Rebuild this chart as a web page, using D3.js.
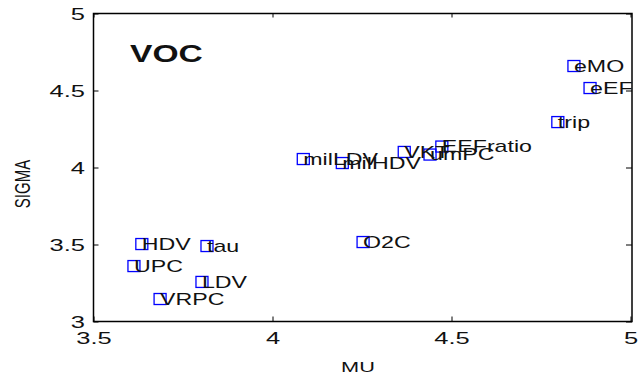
<!DOCTYPE html>
<html>
<head>
<meta charset="utf-8">
<script src="https://cdn.jsdelivr.net/npm/d3@7"></script>
<style>
  html, body { margin: 0; padding: 0; background: #fff; }
  svg { display: block; }
  text { font-family: "Liberation Sans", Arial, sans-serif; fill: #111; }
</style>
</head>
<body>
<svg id="chart" width="639" height="377"></svg>
<script>
// Morris screening results for VOC: mean (MU) and spread (SIGMA) of elementary effects
const params = ["eMO", "eEF", "trip", "EEFratio", "VKT", "umPC", "milLDV", "milHDV", "O2C", "HDV", "tau", "UPC", "LDV", "VRPC"];
const mu     = [4.842, 4.887, 4.797, 4.473, 4.368, 4.440, 4.086, 4.195, 4.253, 3.635, 3.817, 3.613, 3.803, 3.686];
const sigma  = [4.659, 4.516, 4.295, 4.136, 4.101, 4.084, 4.055, 4.029, 3.516, 3.503, 3.490, 3.360, 3.257, 3.146];

const xTicks = [3.5, 4, 4.5, 5];
const yTicks = [3, 3.5, 4, 4.5, 5];
const panelTitle = "VOC";
const xTitle = "MU";
const yTitle = "SIGMA";

const svg = d3.select("#chart");
const plotL = 93.5, plotR = 630.5, plotT = 13.5, plotB = 321.5;
const sx = 1.45; // horizontal text stretch

const x = d3.scaleLinear().domain([3.5, 5]).range([plotL, plotR]);
const y = d3.scaleLinear().domain([3, 5]).range([plotB, plotT]);

// axes with inward ticks
function styleAxis(g) {
  g.select(".domain").remove();
  g.selectAll(".tick line").attr("stroke", "#000").attr("stroke-width", 1);
  g.selectAll(".tick text").attr("font-size", 17).attr("fill", "#111");
}

const gx = svg.append("g").attr("transform", `translate(0,${plotB})`)
  .call(d3.axisBottom(x).tickValues(xTicks).tickSize(-5).tickFormat(d3.format("")));
styleAxis(gx);
gx.selectAll(".tick text")
  .attr("x", null).attr("y", null).attr("dy", null)
  .attr("text-anchor", "middle")
  .attr("transform", `translate(0,22.5) scale(${sx + 0.05},1)`);

const gxTop = svg.append("g").attr("transform", `translate(0,${plotT})`)
  .call(d3.axisTop(x).tickValues(xTicks).tickSize(-4).tickFormat(""));
styleAxis(gxTop);

const gy = svg.append("g").attr("transform", `translate(${plotL},0)`)
  .call(d3.axisLeft(y).tickValues(yTicks).tickSize(-5).tickFormat(d3.format("")));
styleAxis(gy);
gy.selectAll(".tick text")
  .attr("x", null).attr("y", null).attr("dy", null)
  .attr("text-anchor", "end")
  .attr("dominant-baseline", "central")
  .attr("transform", `translate(-8.5,0) scale(${sx + 0.05},1)`);

const gyRight = svg.append("g").attr("transform", `translate(${plotR + 1.5},0)`)
  .call(d3.axisRight(y).tickValues(yTicks).tickSize(-6).tickFormat(""));
styleAxis(gyRight);

// frame
svg.append("rect")
  .attr("x", plotL).attr("y", plotT)
  .attr("width", plotR + 1.5 - plotL).attr("height", plotB - plotT)
  .attr("fill", "none").attr("stroke", "#000").attr("stroke-width", 1.5);

// axis titles
svg.append("text")
  .attr("transform", `translate(358,372) scale(${sx},1)`)
  .attr("text-anchor", "middle").attr("font-size", 15).attr("fill", "#222")
  .text(xTitle);
svg.append("text")
  .attr("transform", `translate(30,184) scale(${sx},1) rotate(-90)`)
  .attr("text-anchor", "middle").attr("font-size", 15).attr("fill", "#222")
  .text(yTitle);

// panel title
svg.append("text")
  .attr("transform", `translate(130,62) scale(${sx - 0.05},1)`)
  .attr("font-size", 24).attr("font-weight", "bold")
  .text(panelTitle);

// points
const pts = params.map((p, i) => ({ p, mu: mu[i], s: sigma[i] }));
const g = svg.append("g");
g.selectAll("rect.pt").data(pts).join("rect")
  .attr("class", "pt")
  .attr("x", d => x(d.mu) - 6).attr("y", d => y(d.s) - 5.5)
  .attr("width", 12).attr("height", 11)
  .attr("fill", "none").attr("stroke", "#0000ff").attr("stroke-width", 1.3);

g.selectAll("text.lbl").data(pts).join("text")
  .attr("class", "lbl")
  .attr("transform", d => `translate(${x(d.mu)},${y(d.s)}) scale(${sx},1)`)
  .attr("dominant-baseline", "central")
  .attr("font-size", 16)
  .text(d => d.p);
</script>
</body>
</html>
